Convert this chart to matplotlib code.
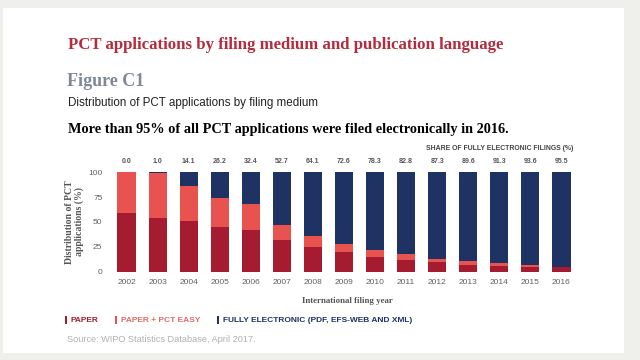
import matplotlib.pyplot as plt
from matplotlib.patches import Rectangle

plt.rcParams['font.family'] = ['Liberation Sans', 'DejaVu Sans']

# Distribution of PCT applications by filing medium (%)
years = ['2002', '2003', '2004', '2005', '2006', '2007', '2008', '2009',
         '2010', '2011', '2012', '2013', '2014', '2015', '2016']
electronic = [0.0, 1.0, 14.1, 26.2, 32.4, 52.7, 64.1, 72.6,
              78.3, 82.8, 87.3, 89.6, 91.3, 93.6, 95.5]
paper = [59.0, 53.7, 51.0, 45.0, 41.6, 31.9, 25.2, 19.8,
         15.1, 11.7, 9.1, 6.7, 5.7, 4.7, 4.4]
paper_easy = [round(100 - e - p, 1) for e, p in zip(electronic, paper)]

c_paper = '#a51c30'
c_easy = '#e9534f'
c_elec = '#1e3263'

W, H = 640, 360
fig = plt.figure(figsize=(6.4, 3.6), dpi=100)
fig.patch.set_facecolor('#efefeb')

def fx(px):
    return px / W

def fy(py):
    return 1 - py / H

# white page panel
fig.patches.append(Rectangle((fx(3), fy(353)), fx(621), 345 / H,
                             transform=fig.transFigure, facecolor='white',
                             edgecolor='none', zorder=-5))

serif = ['Liberation Serif', 'DejaVu Serif']
fig.text(fx(68), fy(45), 'PCT applications by filing medium and publication language',
         family=serif, weight='bold', fontsize=12.1, color='#b52a3c', va='center')
fig.text(fx(67), fy(81), 'Figure C1', family=serif, weight='bold', fontsize=13,
         color='#7d8a96', va='center')
fig.text(fx(68), fy(103), 'Distribution of PCT applications by filing medium',
         fontsize=8.4, color='#222222', va='center')
fig.text(fx(68), fy(129), 'More than 95% of all PCT applications were filed electronically in 2016.',
         family=serif, weight='bold', fontsize=10.25, color='black', va='center')
fig.text(fx(573), fy(148), 'SHARE OF FULLY ELECTRONIC FILINGS (%)', fontsize=4.95,
         weight='bold', color='#444444', ha='right', va='center')

ax = fig.add_axes([fx(108), fy(271.5), fx(472), 99.2 / H])
ax.set_facecolor('none')
x = range(len(years))
b1 = ax.bar(x, paper, width=0.59, color=c_paper, label='PAPER')
b2 = ax.bar(x, paper_easy, width=0.59, bottom=paper, color=c_easy, label='PAPER + PCT EASY')
b3 = ax.bar(x, electronic, width=0.59, bottom=[p + e for p, e in zip(paper, paper_easy)],
            color=c_elec, label='FULLY ELECTRONIC (PDF, EFS-WEB AND XML)')

for i, v in enumerate(electronic):
    ax.annotate(f'{v:.1f}', (i, 100), xytext=(0, 5), textcoords='offset points',
                ha='center', va='bottom', fontsize=5, weight='bold', color='#555555')

ax.set_xlim(-0.6, 14.6)
ax.set_ylim(0, 100)
ax.set_xticks(list(x))
ax.set_xticklabels(years)
ax.set_yticks([0, 25, 50, 75, 100])
ax.tick_params(length=0, labelsize=6, labelcolor='#606060')
ax.tick_params(axis='x', pad=5.5)
ax.tick_params(axis='y', pad=4)
for s in ax.spines.values():
    s.set_visible(False)
ax.set_ylabel('Distribution of PCT\napplications (%)', family=serif, weight='bold',
              fontsize=7, color='#555555', labelpad=3, linespacing=1.05)

fig.text(fx(347), fy(301), 'International filing year', family=serif, weight='bold',
         fontsize=6.4, color='#555555', ha='center', va='center')

leg = fig.legend(handles=[b1, b2, b3], loc='center left', bbox_to_anchor=(fx(65), fy(320)),
                 ncol=3, frameon=False, fontsize=6.0, handlelength=0.25, handleheight=1.1,
                 handletextpad=0.45, columnspacing=2.0, borderaxespad=0, borderpad=0)
for t, c in zip(leg.get_texts(), [c_paper, '#e36a66', c_elec]):
    t.set_color(c)
    t.set_weight('bold')

fig.text(fx(67), fy(339), 'Source: WIPO Statistics Database, April 2017.', fontsize=6.6,
         color='#b0b0b0', va='center')

fig.savefig('out.png', dpi=100, facecolor=fig.get_facecolor())
